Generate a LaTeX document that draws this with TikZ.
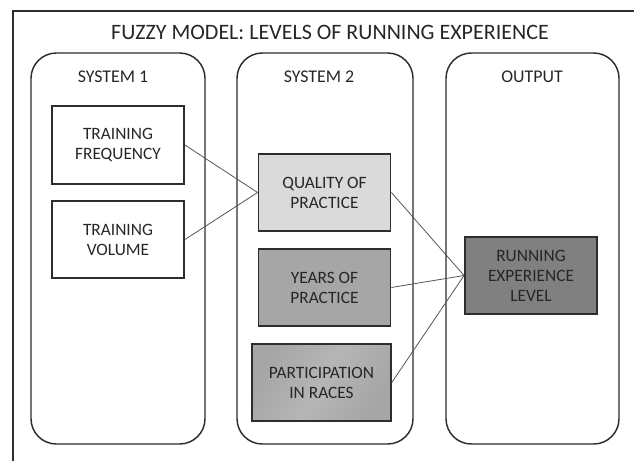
\documentclass[tikz,border=0pt]{standalone}
\usepackage{fontspec}
\setmainfont{Carlito}
\usepackage{xcolor}
\usepackage{tikz}
\definecolor{framegray}{RGB}{45, 45, 45}
\definecolor{linegray}{RGB}{85, 85, 85}
\definecolor{lightfill}{RGB}{218, 218, 218}
\definecolor{midfill}{RGB}{166, 166, 166}
\definecolor{darkfill}{RGB}{128, 128, 128}

\tikzset{
  column/.style={draw=framegray, line width=1.1pt, rounded corners=19pt},
  inbox/.style={draw=framegray, line width=1.4pt, rectangle, align=center,
    minimum width=99pt, minimum height=58pt, inner sep=0pt,
    font=\fontsize{13}{15}\selectfont, text=black!85},
  link/.style={draw=linegray, line width=0.6pt},
  colhead/.style={font=\fontsize{13.4}{15}\selectfont, text=black!85}
}

\begin{document}
\begin{tikzpicture}[x=0.75pt, y=-0.75pt]
  \useasboundingbox (0,0) rectangle (634,461);
  % outer frame, runs off the page on the right and bottom
  \draw[framegray, line width=1.1pt] (13,461) -- (13,11) -- (634,11);
  \node[font=\fontsize{16.5}{19}\selectfont, text=black!85] (title) at (330,32) {FUZZY MODEL: LEVELS OF RUNNING EXPERIENCE};

  % three columns
  \draw[column] (31,53) rectangle (205,444);
  \draw[column] (237,53) rectangle (413,444);
  \draw[column] (446,53) rectangle (619,444);
  \node[colhead] (sys1) at (113,77) {SYSTEM 1};
  \node[colhead] (sys2) at (319,77) {SYSTEM 2};
  \node[colhead] (out) at (532,77) {OUTPUT};

  % system 1 inputs
  \node[inbox] (freq) at (118,145) {TRAINING\\FREQUENCY};
  \node[inbox] (vol) at (118,239.5) {TRAINING\\VOLUME};

  % system 2
  \node[inbox, fill=lightfill] (quality) at (324.5,192.5) {QUALITY OF\\PRACTICE};
  \node[inbox, fill=midfill] (years) at (324.5,287.5) {YEARS OF\\PRACTICE};
  \node[inbox, minimum width=104pt, left color=midfill, right color=midfill,
    middle color=gray!58, shading angle=60] (races) at (321.5,382.5) {PARTICIPATION\\IN RACES};

  % output
  \node[inbox, fill=darkfill, minimum height=58pt] (level) at (531,275.5) {RUNNING\\EXPERIENCE\\LEVEL};

  % connections
  \draw[link] (freq.east) -- (quality.west);
  \draw[link] (vol.east) -- (quality.west);
  \draw[link] (quality.east) -- (level.west);
  \draw[link] (years.east) -- (level.west);
  \draw[link] (races.east) -- (level.west);
\end{tikzpicture}
\end{document}
